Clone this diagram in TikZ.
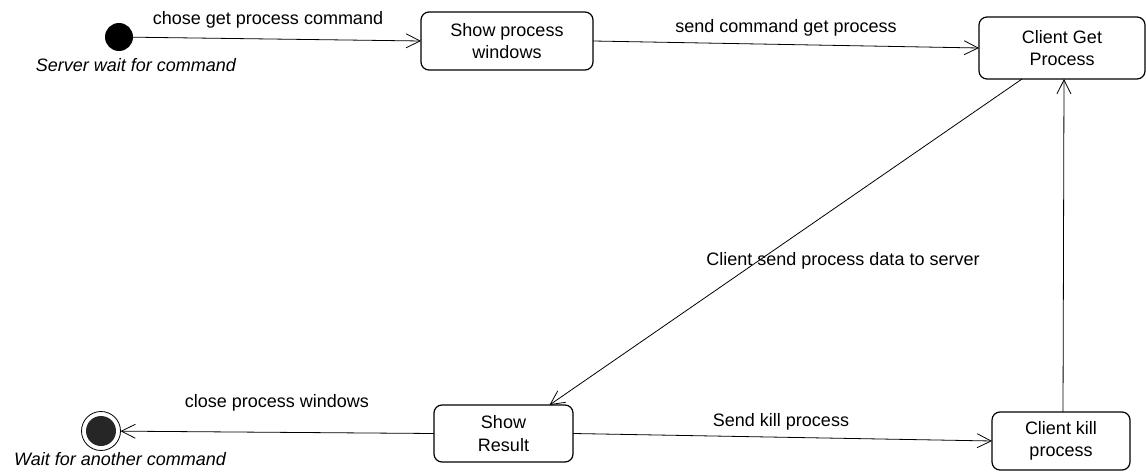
\documentclass[tikz,border=0pt]{standalone}
\usepackage{fontspec}
\setmainfont{Liberation Sans}
\usetikzlibrary{arrows.meta,calc}

\begin{document}
\begin{tikzpicture}[x=1pt,y=-1pt,
  every node/.style={inner sep=0pt,outer sep=0pt},
  txt/.style={font=\fontsize{18}{22.5}\selectfont},
  itxt/.style={font=\fontsize{18}{22.5}\selectfont\itshape},
  statebox/.style={draw,line width=1.2pt,rounded corners=8pt,align=center,
    font=\fontsize{18}{22.5}\selectfont},
  flow/.style={line width=0.8pt,-{Straight Barb[length=14pt,width=14pt,line width=0.8pt]}},
  lbl/.style={txt,anchor=base}]

\useasboundingbox (0,0) rectangle (1146,476);

% states
\node[circle,fill=black,minimum size=28pt] (init) at (119,37) {};
\node[statebox,minimum width=172pt,minimum height=58pt] (show) at (507,41)
  {Show process\\windows};
\node[statebox,minimum width=166pt,minimum height=62pt] (get) at (1062,48)
  {Client Get\\Process};
\node[statebox,minimum width=139pt,minimum height=57pt] (result) at (503.5,433.5)
  {Show\\Result};
\node[statebox,minimum width=138pt,minimum height=58pt] (kill) at (1061,441)
  {Client kill\\process};
\node[circle,draw,line width=0.8pt,minimum size=39pt] (final) at (101,431) {};
\node[circle,fill=black!85,minimum size=30pt] (finalin) at (final.center) {};

% state captions
\node[itxt,anchor=base] (capstart) at (136,72) {Server wait for command};
\node[itxt,anchor=base] (capend) at (120,465) {Wait for another command};

% transitions
\draw[flow] (init) -- (show.west);
\draw[flow] (show.east) -- (get.west);
\draw[flow] ([xshift=-40pt]get.south) -- ([xshift=46pt]result.north);
\draw[flow] (result.west) -- (final);
\draw[flow] (result.east) -- (kill.west);
\draw[flow] ([xshift=2pt]kill.north) -- ([xshift=2pt]get.south);

% transition labels
\node[lbl] (l1) at (268,25) {chose get process command};
\node[lbl] (l2) at (786,33) {send command get process};
\node[lbl] (l3) at (843,265) {Client send process data to server};
\node[lbl] (l4) at (277,407) {close process windows};
\node[lbl] (l5) at (781,426) {Send kill process};

\end{tikzpicture}
\end{document}
